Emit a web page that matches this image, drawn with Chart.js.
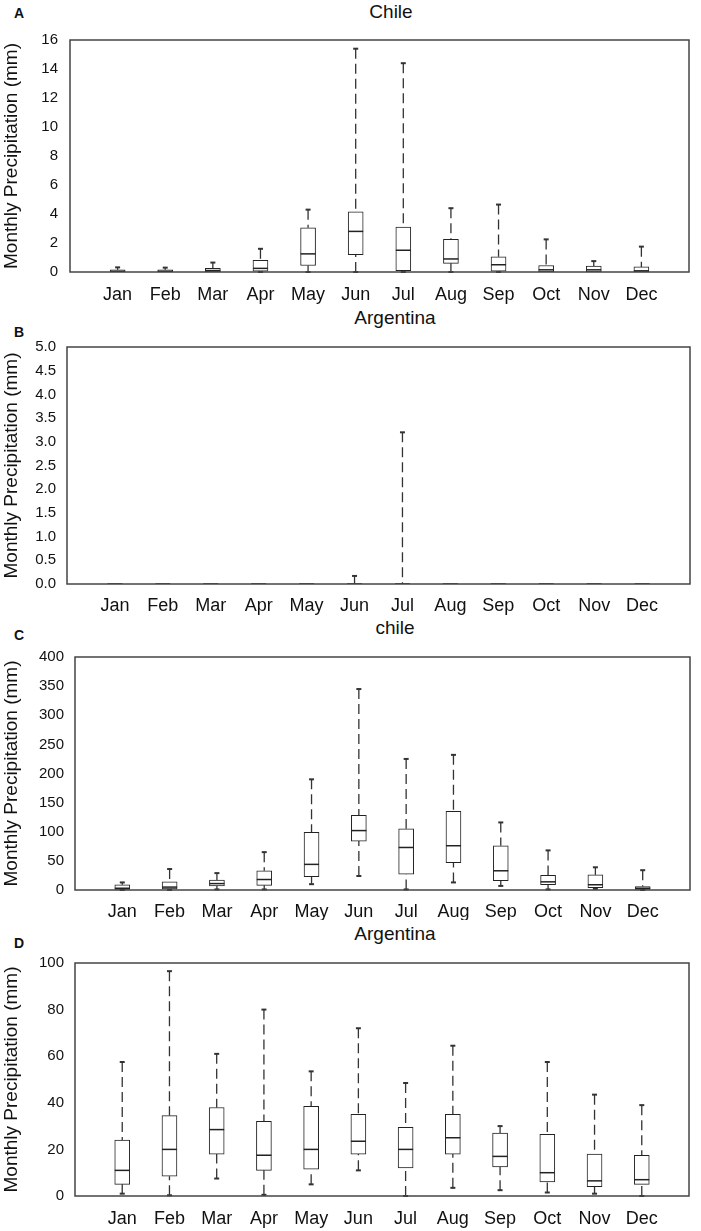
<!DOCTYPE html>
<html>
<head>
<meta charset="utf-8">
<script src="https://cdn.jsdelivr.net/npm/chart.js@4/dist/chart.umd.min.js"></script>
<style>
  html, body { margin: 0; padding: 0; background: #fff; }
  body { width: 701px; height: 1231px; position: relative; overflow: hidden;
         font-family: "Liberation Sans", Arial, sans-serif; color: #111; }
  .panel { position: absolute; left: 0; width: 701px; }
  .letter { position: absolute; font-weight: bold; font-size: 14px; }
  .title { position: absolute; font-size: 19px; transform: translateX(-50%); white-space: nowrap; }
</style>
</head>
<body>
<div class="letter" style="left:14px;top:5px">A</div>
<div class="title" style="left:391px;top:1px">Chile</div>
<div class="panel" style="top:0;height:305px"><canvas id="chartA"></canvas></div>

<div class="letter" style="left:14px;top:324px">B</div>
<div class="title" style="left:395px;top:307px">Argentina</div>
<div class="panel" style="top:305px;height:310px"><canvas id="chartB"></canvas></div>

<div class="letter" style="left:14px;top:627px">C</div>
<div class="title" style="left:395px;top:617px">chile</div>
<div class="panel" style="top:615px;height:305px"><canvas id="chartC"></canvas></div>

<div class="letter" style="left:14px;top:935px">D</div>
<div class="title" style="left:395px;top:923px">Argentina</div>
<div class="panel" style="top:920px;height:311px"><canvas id="chartD"></canvas></div>

<script>
const months = ['Jan', 'Feb', 'Mar', 'Apr', 'May', 'Jun', 'Jul', 'Aug', 'Sep', 'Oct', 'Nov', 'Dec'];

// A - Chile
const aMin = [0, 0, 0, 0, 0, 0, 0, 0, 0, 0, 0, 0];
const aQ1  = [0, 0, 0, 0.05, 0.45, 1.2, 0.1, 0.6, 0.05, 0, 0, 0];
const aMed = [0.05, 0.05, 0.1, 0.25, 1.25, 2.8, 1.5, 0.9, 0.5, 0.15, 0.15, 0.08];
const aQ3  = [0.15, 0.15, 0.25, 0.8, 3.05, 4.15, 3.1, 2.25, 1.05, 0.45, 0.4, 0.35];
const aMax = [0.32, 0.3, 0.65, 1.6, 4.3, 15.4, 14.4, 4.4, 4.65, 2.25, 0.75, 1.75];
const aTicks = [0, 2, 4, 6, 8, 10, 12, 14, 16];

// B - Argentina
const bMin = [0, 0, 0, 0, 0, 0, 0, 0, 0, 0, 0, 0];
const bQ1  = [0, 0, 0, 0, 0, 0, 0, 0, 0, 0, 0, 0];
const bMed = [0, 0, 0, 0, 0, 0, 0, 0, 0, 0, 0, 0];
const bQ3  = [0, 0, 0, 0, 0, 0, 0, 0, 0, 0, 0, 0];
const bMax = [0, 0, 0, 0, 0, 0.17, 3.2, 0, 0, 0, 0, 0];
const bTicks = [0, 0.5, 1, 1.5, 2, 2.5, 3, 3.5, 4, 4.5, 5];

// C - chile
const cMin = [0, 0, 1, 1, 10, 24, 1, 13, 7, 1, 2, 0];
const cQ1  = [1, 2, 7, 8, 23, 84, 27, 47, 16, 9, 4, 1];
const cMed = [3, 5, 11, 18, 44, 102, 73, 76, 33, 14, 9, 3];
const cQ3  = [9, 14, 17, 33, 99, 128, 105, 135, 76, 25, 26, 6];
const cMax = [13, 36, 29, 65, 190, 345, 225, 232, 116, 68, 39, 34];
const cTicks = [0, 50, 100, 150, 200, 250, 300, 350, 400];

// D - Argentina
const dMin = [1, 0.3, 7.5, 0.5, 5, 11, 0, 3.5, 2.5, 1.5, 1, 0];
const dQ1  = [5, 8.5, 18, 11, 11.5, 18, 12, 18, 12.5, 6, 4, 5];
const dMed = [11, 20, 28.5, 17.5, 20, 23.5, 20, 25, 17, 10, 6.5, 7];
const dQ3  = [24, 34.5, 38, 32, 38.5, 35, 29.5, 35, 27, 26.5, 18, 17.5];
const dMax = [57.5, 96.5, 61, 80, 53.5, 72, 48.5, 64.5, 30, 57.5, 43.5, 39];
const dTicks = [0, 20, 40, 60, 80, 100];

// empty slots at both ends give the wide side margins of the original
const labels = ['', ...months, ''];
const pad = arr => [null, ...arr, null];

// dashed whiskers + caps, drawn behind the boxes
const whiskerPlugin = {
  id: 'whiskers',
  beforeDatasetsDraw(chart, args, opts) {
    const { ctx } = chart;
    const x = chart.scales.x, y = chart.scales.y;
    ctx.save();
    ctx.strokeStyle = '#333';
    opts.hi.forEach((hi, i) => {
      const px = x.getPixelForValue(i + 1);
      const segs = [[opts.q3[i], hi], [opts.q1[i], opts.lo[i]]];
      segs.forEach(([from, to]) => {
        if (to === from) return;
        ctx.lineWidth = 1.3;
        ctx.setLineDash([10, 5]);
        ctx.beginPath();
        ctx.moveTo(px, y.getPixelForValue(to));
        ctx.lineTo(px, y.getPixelForValue(from));
        ctx.stroke();
        ctx.setLineDash([]);
        ctx.lineWidth = 2;
        ctx.beginPath();
        ctx.moveTo(px - 2.5, y.getPixelForValue(to));
        ctx.lineTo(px + 2.5, y.getPixelForValue(to));
        ctx.stroke();
      });
    });
    ctx.restore();
  }
};

// plot frame
const framePlugin = {
  id: 'frame',
  afterDraw(chart) {
    const { ctx, chartArea: a } = chart;
    ctx.save();
    ctx.strokeStyle = '#444';
    ctx.lineWidth = 1.5;
    ctx.strokeRect(a.left, a.top, a.right - a.left, a.bottom - a.top);
    ctx.restore();
  }
};

const tickFont = { family: '"Liberation Sans", Arial, sans-serif', size: 15 };

function makePanel(id, lo, q1, med, q3, hi, ticks, dec, box) {
  const boxes = q1.map((v, i) => [v, q3[i]]);
  return new Chart(document.getElementById(id), {
    type: 'bar',
    data: {
      labels: labels,
      datasets: [{
        data: pad(boxes),
        order: 2,
        backgroundColor: '#fff',
        borderColor: '#222',
        borderWidth: 1,
        borderSkipped: false,
        barThickness: 15
      }, {
        // medians, on top of the boxes
        type: 'line',
        order: 1,
        data: pad(med),
        showLine: false,
        pointStyle: 'line',
        pointRadius: 7.5,
        pointBorderWidth: 1.5,
        pointBorderColor: '#222',
        borderColor: '#222'
      }]
    },
    options: {
      responsive: true,
      maintainAspectRatio: false,
      animation: false,
      layout: { padding: { top: box.top, right: box.right, left: 0, bottom: 0 } },
      plugins: {
        legend: { display: false },
        tooltip: { enabled: false },
        whiskers: { lo: lo, q1: q1, q3: q3, hi: hi }
      },
      scales: {
        x: {
          offset: false,
          grid: { display: false, drawTicks: false },
          border: { display: false },
          ticks: { color: '#111', font: { family: tickFont.family, size: 18 },
                   padding: box.xPad, maxRotation: 0, autoSkip: false },
          afterFit: s => { s.height = box.xh; }
        },
        y: {
          min: ticks[0],
          max: ticks[ticks.length - 1],
          grid: { display: false, drawTicks: false },
          border: { display: false },
          afterBuildTicks: s => { s.ticks = ticks.map(v => ({ value: v })); },
          ticks: { color: '#111', font: tickFont, padding: box.yPad,
                   callback: v => v.toFixed(dec) },
          title: { display: true, text: 'Monthly Precipitation (mm)', color: '#111',
                   font: { family: tickFont.family, size: 19 }, padding: { top: 0, bottom: 0 } },
          afterFit: s => { s.width = box.left; }
        }
      }
    },
    plugins: [whiskerPlugin, framePlugin]
  });
}

makePanel('chartA', aMin, aQ1, aMed, aQ3, aMax, aTicks, 0,
  { top: 40, right: 11, left: 70, xh: 33, xPad: 12, yPad: 12 });
makePanel('chartB', bMin, bQ1, bMed, bQ3, bMax, bTicks, 1,
  { top: 42, right: 1, left: 67, xh: 31, xPad: 11, yPad: 11 });
makePanel('chartC', cMin, cQ1, cMed, cQ3, cMax, cTicks, 0,
  { top: 42, right: 5, left: 75, xh: 30, xPad: 11, yPad: 11 });
makePanel('chartD', dMin, dQ1, dMed, dQ3, dMax, dTicks, 0,
  { top: 43, right: 5, left: 75, xh: 35, xPad: 12, yPad: 11 });
</script>
</body>
</html>
